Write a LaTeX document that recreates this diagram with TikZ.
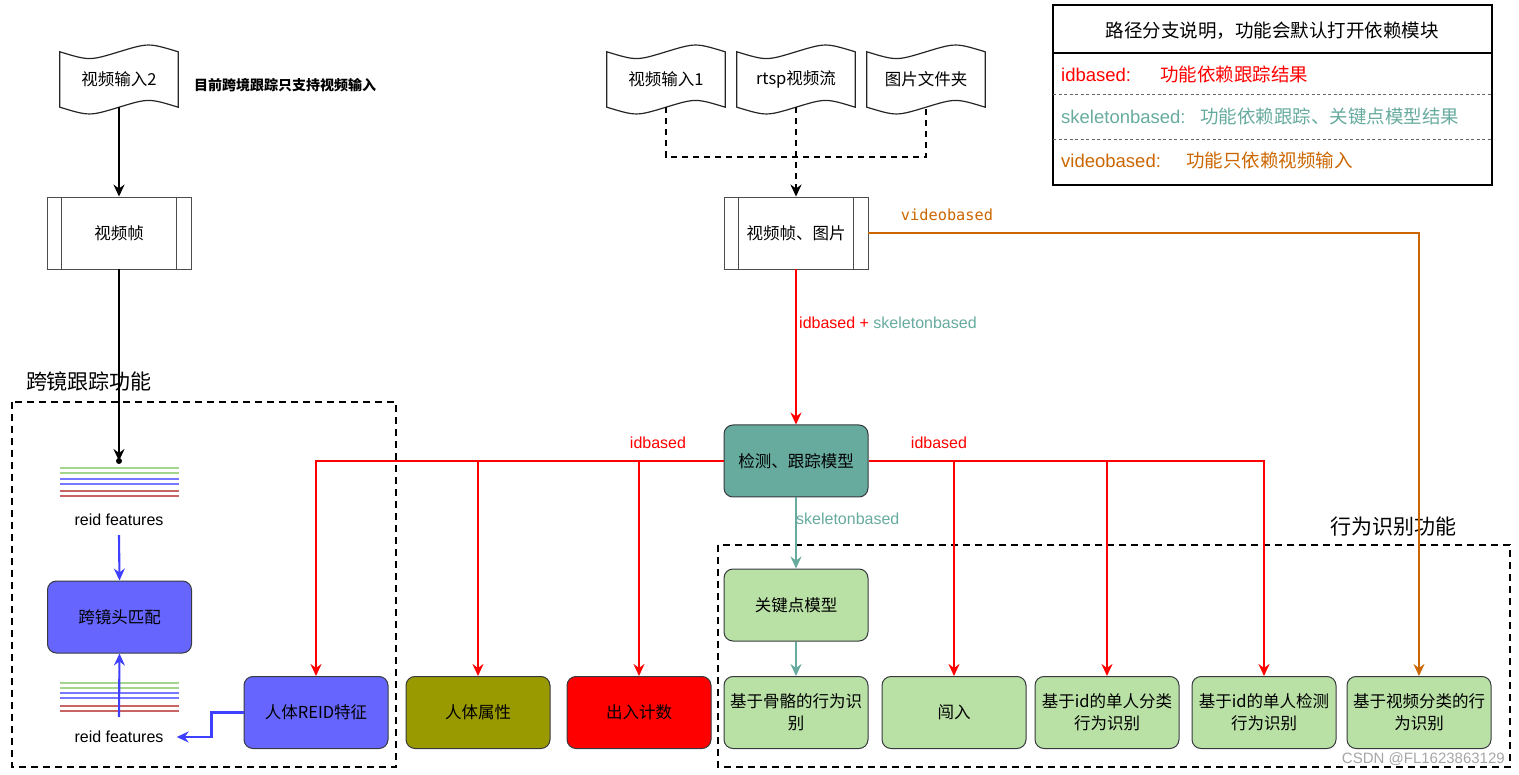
\documentclass[tikz,border=0pt]{standalone}
\usepackage{fontspec}
\setmainfont{Liberation Sans}
\newfontfamily\cjk{Noto Sans CJK SC}
\newfontfamily\monofam{DejaVu Sans Mono}
\usetikzlibrary{arrows.meta,calc}
\definecolor{tealc}{HTML}{67AB9F}
\definecolor{greenf}{HTML}{B9E0A5}
\definecolor{bluef}{HTML}{6666FF}
\definecolor{olivef}{HTML}{999900}
\definecolor{orangec}{HTML}{CC6600}
\definecolor{redc}{HTML}{FF0000}
\definecolor{bluea}{HTML}{3F3FFF}
\definecolor{strokec}{HTML}{36393D}
\definecolor{fgreen}{HTML}{A3D68C}
\definecolor{fblue}{HTML}{7777FF}
\definecolor{fred}{HTML}{C96464}
\newcommand\tapeoutline[1]{%
  \draw[black!85, line width=1.2pt]
    (#1.north west) .. controls ($(#1.north west)!0.25!(#1.north east)+(0,9)$) .. (#1.north)
    .. controls ($(#1.north west)!0.75!(#1.north east)+(0,-9)$) .. (#1.north east)
    -- (#1.south east)
    .. controls ($(#1.south west)!0.75!(#1.south east)+(0,-9)$) .. (#1.south)
    .. controls ($(#1.south west)!0.25!(#1.south east)+(0,9)$) .. (#1.south west) -- cycle;}
\newcommand\procbars[1]{%
  \draw[black!70, line width=0.9pt] ($(#1.north west)+(15,0)$) -- ($(#1.south west)+(15,0)$);
  \draw[black!70, line width=0.9pt] ($(#1.north east)+(-15,0)$) -- ($(#1.south east)+(-15,0)$);}
\begin{document}
\begin{tikzpicture}[x=1pt,y=-1pt,
  arr/.style={-{Stealth[length=12pt,width=11pt,inset=4pt]}},
  wire/.style={line width=2.1pt},
  box/.style={rounded corners=9pt, draw=strokec, line width=1pt, minimum width=144pt,
    minimum height=72pt, align=center, font=\cjk\fontsize{16.5}{22}\selectfont, text=black, inner sep=2pt},
  proc/.style={draw=black!70, line width=0.9pt, minimum width=144pt, minimum height=72pt,
    font=\cjk\fontsize{16.5}{22}\selectfont},
  tape/.style={minimum width=118pt, minimum height=55pt, inner sep=0pt, font=\cjk\fontsize{16.5}{22}\selectfont},
  lbl/.style={font=\fontsize{16}{18}\selectfont, inner sep=1pt},
  title/.style={font=\cjk\fontsize{21}{23}\selectfont},
  legrow/.style={anchor=west, font=\fontsize{18.5}{20}\selectfont, inner sep=0pt},
  dashbox/.style={black, line width=2pt, dash pattern=on 7pt off 5pt},
  dashwire/.style={black, line width=2.1pt, dash pattern=on 6pt off 5pt}
]
\useasboundingbox (0,0) rectangle (1519,775);

% ---------- dashed group frames ----------
\draw[dashbox] (12,402) rectangle (396,767);
\draw[dashbox] (718,545) rectangle (1510,767);
\node[title] (t1) at (89,382) {跨镜跟踪功能};
\node[title] (t2) at (1393,527) {行为识别功能};

% ---------- left column ----------
\node[tape] (in2) at (119,79.5) {视频输入2};
\tapeoutline{in2}
\node[font=\cjk\bfseries\fontsize{14}{16}\selectfont, anchor=west, inner sep=0pt] (note) at (194,85) {目前跨境跟踪只支持视频输入};
\node[proc] (frame1) at (119,233) {视频帧};
\procbars{frame1}
\coordinate (fdot) at (119,461);
\draw[wire, black, arr] (in2.south) -- (frame1.north);
\draw[wire, black, arr] (frame1.south) -- (fdot);
\fill[black] (fdot) circle (3pt);

\foreach \yy/\cc in {468/fgreen,473/fgreen,479/fblue,484/fblue,491/fred,496/fred}
  \draw[\cc, line width=1.5pt] (60,\yy) -- (179,\yy);
\foreach \yy/\cc in {683/fgreen,688/fgreen,693/fblue,698/fblue,706/fred,711/fred}
  \draw[\cc, line width=1.5pt] (60,\yy) -- (179,\yy);
\node[lbl] (rf1) at (119,520) {reid features};
\node[lbl, inner xsep=13pt] (rf2) at (119,737) {reid features};
\node[box, fill=bluef] (match) at (119.5,617) {跨镜头匹配};
\coordinate (rf2top) at (119,717);
\draw[wire, bluea, arr] (rf1.south) ++(0,8) -- (match.north);
\draw[wire, bluea, arr] (rf2top) -- (match.south);

% ---------- top middle inputs ----------
\node[tape] (in1) at (666,79.5) {视频输入1};
\node[tape] (rtsp) at (796,79.5) {rtsp视频流};
\node[tape] (imgs) at (926,79.5) {图片文件夹};
\tapeoutline{in1}
\tapeoutline{rtsp}
\tapeoutline{imgs}
\node[proc] (frame2) at (796,233) {视频帧、图片};
\procbars{frame2}
\coordinate (join) at (796,157);
\draw[dashwire] (in1.south) |- (join) -| (imgs.south);
\draw[dashwire, arr] (rtsp.south) -- (frame2.north);

% ---------- detection ----------
\node[box, fill=tealc] (det) at (796,461) {检测、跟踪模型};
\draw[wire, redc, arr] (frame2.south) -- (det.north);
\node[lbl, anchor=west] (lab1) at (798,323) {\textcolor{redc}{idbased +} \textcolor{tealc}{skeletonbased}};

% ---------- bottom row ----------
\node[box, fill=bluef] (reidb) at (316,712.5) {人体REID特征};
\node[box, fill=olivef] (attr) at (478,712.5) {人体属性};
\node[box, fill=redc] (count) at (639,712.5) {出入计数};
\node[box, fill=greenf] (kp) at (796,605) {关键点模型};
\node[box, fill=greenf] (skel) at (796,712.5) {基于骨骼的行为识\\别};
\node[box, fill=greenf] (intr) at (954,712.5) {闯入};
\node[box, fill=greenf] (clsact) at (1107,712.5) {基于id的单人分类\\行为识别};
\node[box, fill=greenf] (detact) at (1264,712.5) {基于id的单人检测\\行为识别};
\node[box, fill=greenf] (vidcls) at (1419,712.5) {基于视频分类的行\\为识别};

% red idbased branches
\draw[wire, redc, arr] (det.west) -| (reidb.north);
\draw[wire, redc, arr] (attr.north |- det.west) -- (attr.north);
\draw[wire, redc, arr] (count.north |- det.west) -- (count.north);
\draw[wire, redc, arr] (det.east) -| (detact.north);
\draw[wire, redc, arr] (intr.north |- det.east) -- (intr.north);
\draw[wire, redc, arr] (clsact.north |- det.east) -- (clsact.north);
\node[lbl, text=redc] (lab2) at (658,443) {idbased};
\node[lbl, text=redc] (lab3) at (939,443) {idbased};

% teal skeleton branch
\draw[wire, tealc, arr] (det.south) -- (kp.north);
\draw[wire, tealc, arr] (kp.south) -- (skel.north);
\node[lbl, text=tealc, anchor=west] (lab4) at (795,519) {skeletonbased};

% orange video branch
\draw[wire, orangec, arr] (frame2.east) -| (vidcls.north);
\node[font=\monofam\fontsize{15.3}{17}\selectfont, text=orangec, inner sep=0pt] (lab5) at (947,215) {videobased};

% REID -> reid features
\draw[wire, bluea, arr] (reidb.west) -- ++(-32,0) |- (rf2.east);

% ---------- legend ----------
\draw[black, line width=1.8pt] (1053,5) rectangle (1492,185);
\draw[black, line width=1.8pt] (1053,53) -- (1492,53);
\draw[black!60, line width=1pt, dash pattern=on 3pt off 2.5pt] (1053,95) -- (1492,95);
\draw[black!60, line width=1pt, dash pattern=on 3pt off 2.5pt] (1053,140) -- (1492,140);
\node[font=\cjk\fontsize{18.5}{20}\selectfont] (lh) at (1272,31) {路径分支说明，功能会默认打开依赖模块};
\node[legrow, text=redc] (lr1) at (1061,74) {\makebox[99pt][l]{idbased:}{\cjk 功能依赖跟踪结果}};
\node[legrow, text=tealc] (lr2) at (1061,116) {\makebox[139pt][l]{skeletonbased:}{\cjk 功能依赖跟踪、关键点模型结果}};
\node[legrow, text=orangec] (lr3) at (1061,160) {\makebox[125pt][l]{videobased:}{\cjk 功能只依赖视频输入}};

% watermark
\node[font=\fontsize{15}{17}\selectfont, text=black!35, anchor=east, inner sep=0pt] (wm) at (1505,759) {CSDN @FL1623863129};
\end{tikzpicture}
\end{document}
